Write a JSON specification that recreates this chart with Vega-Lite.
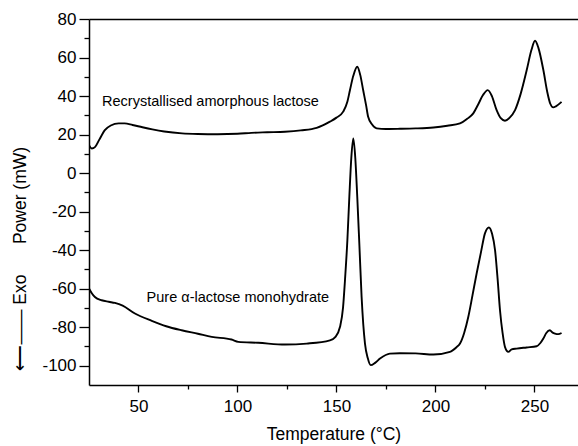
{
  "$schema": "https://vega.github.io/schema/vega-lite/v6.json",
  "autosize": "none",
  "width": 489,
  "height": 366,
  "padding": {"left": 89, "top": 19, "right": 0, "bottom": 61},
  "background": "white",
  "config": {
    "view": {"stroke": null},
    "axis": {
      "grid": false,
      "domainColor": "black",
      "domainWidth": 1.5,
      "tickColor": "black",
      "tickWidth": 1.3,
      "labelColor": "black",
      "labelFont": "Liberation Sans",
      "labelFontSize": 17,
      "titleColor": "black",
      "titleFont": "Liberation Sans",
      "titleFontSize": 17.5,
      "titleFontWeight": "normal"
    }
  },
  "datasets": {
    "curves": [
      {"series": "Recrystallised", "t": 25, "p": 14.5},
      {"series": "Recrystallised", "t": 26.4, "p": 12.8},
      {"series": "Recrystallised", "t": 28, "p": 13.5},
      {"series": "Recrystallised", "t": 30, "p": 17},
      {"series": "Recrystallised", "t": 33, "p": 22.3},
      {"series": "Recrystallised", "t": 36, "p": 24.7},
      {"series": "Recrystallised", "t": 40, "p": 25.8},
      {"series": "Recrystallised", "t": 43, "p": 25.8},
      {"series": "Recrystallised", "t": 47, "p": 25},
      {"series": "Recrystallised", "t": 52, "p": 23.8},
      {"series": "Recrystallised", "t": 57, "p": 22.7},
      {"series": "Recrystallised", "t": 63, "p": 21.6},
      {"series": "Recrystallised", "t": 72, "p": 20.6},
      {"series": "Recrystallised", "t": 80, "p": 20.3},
      {"series": "Recrystallised", "t": 90, "p": 20.2},
      {"series": "Recrystallised", "t": 100, "p": 20.4},
      {"series": "Recrystallised", "t": 107, "p": 20.9},
      {"series": "Recrystallised", "t": 115, "p": 21.2},
      {"series": "Recrystallised", "t": 124, "p": 21.5},
      {"series": "Recrystallised", "t": 132, "p": 22.2},
      {"series": "Recrystallised", "t": 140, "p": 23.5},
      {"series": "Recrystallised", "t": 146.7, "p": 26.7},
      {"series": "Recrystallised", "t": 150, "p": 28.8},
      {"series": "Recrystallised", "t": 153.4, "p": 31.9},
      {"series": "Recrystallised", "t": 155.5, "p": 37},
      {"series": "Recrystallised", "t": 156.8, "p": 43},
      {"series": "Recrystallised", "t": 158.5, "p": 50.5},
      {"series": "Recrystallised", "t": 160.5, "p": 55.2},
      {"series": "Recrystallised", "t": 162, "p": 51},
      {"series": "Recrystallised", "t": 163.5, "p": 43},
      {"series": "Recrystallised", "t": 165, "p": 35},
      {"series": "Recrystallised", "t": 166, "p": 29.2},
      {"series": "Recrystallised", "t": 168, "p": 25.2},
      {"series": "Recrystallised", "t": 170.3, "p": 23.2},
      {"series": "Recrystallised", "t": 175, "p": 22.9},
      {"series": "Recrystallised", "t": 182, "p": 23},
      {"series": "Recrystallised", "t": 190, "p": 23.2},
      {"series": "Recrystallised", "t": 199, "p": 23.7},
      {"series": "Recrystallised", "t": 206, "p": 24.6},
      {"series": "Recrystallised", "t": 212.4, "p": 25.8},
      {"series": "Recrystallised", "t": 216, "p": 28.2},
      {"series": "Recrystallised", "t": 219.1, "p": 31},
      {"series": "Recrystallised", "t": 221.5, "p": 35.5},
      {"series": "Recrystallised", "t": 224, "p": 40.5},
      {"series": "Recrystallised", "t": 226.4, "p": 43.1},
      {"series": "Recrystallised", "t": 228.5, "p": 40},
      {"series": "Recrystallised", "t": 230.9, "p": 32.7},
      {"series": "Recrystallised", "t": 233, "p": 28.5},
      {"series": "Recrystallised", "t": 235.1, "p": 27.2},
      {"series": "Recrystallised", "t": 237.5, "p": 28.8},
      {"series": "Recrystallised", "t": 240.2, "p": 32.7},
      {"series": "Recrystallised", "t": 243, "p": 41},
      {"series": "Recrystallised", "t": 246.1, "p": 53.5},
      {"series": "Recrystallised", "t": 248.5, "p": 64},
      {"series": "Recrystallised", "t": 250.3, "p": 68.7},
      {"series": "Recrystallised", "t": 252, "p": 65},
      {"series": "Recrystallised", "t": 254.5, "p": 53.5},
      {"series": "Recrystallised", "t": 256.5, "p": 42},
      {"series": "Recrystallised", "t": 258, "p": 36},
      {"series": "Recrystallised", "t": 259.5, "p": 34.1},
      {"series": "Recrystallised", "t": 261, "p": 34.8},
      {"series": "Recrystallised", "t": 263.7, "p": 37},
      {"series": "Pure", "t": 25, "p": -59.9},
      {"series": "Pure", "t": 26.5, "p": -62.5},
      {"series": "Pure", "t": 28, "p": -64.3},
      {"series": "Pure", "t": 31.4, "p": -66},
      {"series": "Pure", "t": 35, "p": -66.8},
      {"series": "Pure", "t": 38.1, "p": -67.4},
      {"series": "Pure", "t": 42, "p": -68.8},
      {"series": "Pure", "t": 48.2, "p": -72.9},
      {"series": "Pure", "t": 56.7, "p": -76.7},
      {"series": "Pure", "t": 64, "p": -79.5},
      {"series": "Pure", "t": 71.8, "p": -81.6},
      {"series": "Pure", "t": 80, "p": -83.4},
      {"series": "Pure", "t": 87, "p": -85},
      {"series": "Pure", "t": 97, "p": -86.4},
      {"series": "Pure", "t": 100.4, "p": -87.6},
      {"series": "Pure", "t": 110.5, "p": -88.1},
      {"series": "Pure", "t": 124, "p": -89},
      {"series": "Pure", "t": 135, "p": -88.5},
      {"series": "Pure", "t": 146.7, "p": -86.8},
      {"series": "Pure", "t": 149.5, "p": -85},
      {"series": "Pure", "t": 151.8, "p": -79.8},
      {"series": "Pure", "t": 153.3, "p": -70},
      {"series": "Pure", "t": 154.3, "p": -55.6},
      {"series": "Pure", "t": 155.5, "p": -35},
      {"series": "Pure", "t": 156.5, "p": -12.3},
      {"series": "Pure", "t": 157.5, "p": 8},
      {"series": "Pure", "t": 158.5, "p": 18},
      {"series": "Pure", "t": 159.5, "p": 8},
      {"series": "Pure", "t": 160.5, "p": -12.3},
      {"series": "Pure", "t": 161.6, "p": -38},
      {"series": "Pure", "t": 162.7, "p": -64.3},
      {"series": "Pure", "t": 164.4, "p": -88.5},
      {"series": "Pure", "t": 165.8, "p": -96},
      {"series": "Pure", "t": 167.3, "p": -99.7},
      {"series": "Pure", "t": 169.5, "p": -98.5},
      {"series": "Pure", "t": 172, "p": -96.3},
      {"series": "Pure", "t": 177, "p": -93.7},
      {"series": "Pure", "t": 182, "p": -93.5},
      {"series": "Pure", "t": 190, "p": -93.6},
      {"series": "Pure", "t": 199, "p": -94.2},
      {"series": "Pure", "t": 207.3, "p": -92.8},
      {"series": "Pure", "t": 210.5, "p": -90.5},
      {"series": "Pure", "t": 212.4, "p": -88.5},
      {"series": "Pure", "t": 214.5, "p": -83},
      {"series": "Pure", "t": 216.6, "p": -74.6},
      {"series": "Pure", "t": 218.7, "p": -63.5},
      {"series": "Pure", "t": 220.8, "p": -52.1},
      {"series": "Pure", "t": 223, "p": -41},
      {"series": "Pure", "t": 225, "p": -31.3},
      {"series": "Pure", "t": 227, "p": -28.2},
      {"series": "Pure", "t": 228.6, "p": -31.5},
      {"series": "Pure", "t": 230.1, "p": -40},
      {"series": "Pure", "t": 231.4, "p": -55},
      {"series": "Pure", "t": 232.6, "p": -71.2},
      {"series": "Pure", "t": 233.9, "p": -83},
      {"series": "Pure", "t": 235.1, "p": -90.2},
      {"series": "Pure", "t": 236.8, "p": -92.8},
      {"series": "Pure", "t": 238.5, "p": -91.5},
      {"series": "Pure", "t": 241, "p": -91.1},
      {"series": "Pure", "t": 246, "p": -90.5},
      {"series": "Pure", "t": 251.1, "p": -89.9},
      {"series": "Pure", "t": 253, "p": -88.2},
      {"series": "Pure", "t": 254.5, "p": -85.9},
      {"series": "Pure", "t": 256, "p": -83},
      {"series": "Pure", "t": 257.8, "p": -81.6},
      {"series": "Pure", "t": 259.2, "p": -82.8},
      {"series": "Pure", "t": 260.4, "p": -83.3},
      {"series": "Pure", "t": 262, "p": -83.6},
      {"series": "Pure", "t": 263.7, "p": -83}
    ],
    "labels": [
      {"text": "Recrystallised amorphous lactose", "t": 31.6, "p": 36.9},
      {"text": "Pure α-lactose monohydrate", "t": 54.1, "p": -64.9}
    ]
  },
  "layer": [
    {
      "data": {"name": "curves"},
      "mark": {"type": "line", "color": "black", "strokeWidth": 1.9, "interpolate": "monotone", "clip": true},
      "encoding": {
        "x": {
          "field": "t", "type": "quantitative",
          "scale": {"domain": [25, 272], "nice": false, "zero": false},
          "axis": {
            "values": [50, 75, 100, 125, 150, 175, 200, 225, 250],
            "labelExpr": "datum.value % 50 === 0 ? datum.label : ''",
            "tickSize": {"condition": {"test": "datum.value % 50 === 0", "value": 7}, "value": 4},
            "labelPadding": 6,
            "title": "Temperature (°C)",
            "titleY": 40,
            "titleBaseline": "top"
          }
        },
        "y": {
          "field": "p", "type": "quantitative",
          "scale": {"domain": [-110, 80], "nice": false, "zero": false},
          "axis": {
            "values": [-100, -90, -80, -70, -60, -50, -40, -30, -20, -10, 0, 10, 20, 30, 40, 50, 60, 70, 80],
            "labelExpr": "datum.value % 20 === 0 ? '' + datum.value : ''",
            "tickSize": {"condition": {"test": "datum.value % 20 === 0", "value": 10}, "value": 5},
            "labelPadding": 3,
            "title": "Power (mW)",
            "titleAngle": -90,
            "titleX": -69,
            "titleY": 176,
            "titleAlign": "center",
            "titleBaseline": "middle"
          }
        },
        "detail": {"field": "series"}
      }
    },
    {
      "data": {"name": "labels"},
      "mark": {"type": "text", "align": "left", "baseline": "middle", "font": "Liberation Sans", "fontSize": 14.5, "color": "black"},
      "encoding": {
        "x": {
          "field": "t", "type": "quantitative",
          "axis": {"orient": "top", "labels": false, "ticks": false, "title": null, "domain": true}
        },
        "y": {
          "field": "p", "type": "quantitative",
          "axis": {
            "orient": "left", "labels": false, "ticks": false, "domain": false,
            "title": "⟵――  Exo",
            "titleAngle": -90,
            "titleX": -69,
            "titleY": 303,
            "titleAlign": "center",
            "titleBaseline": "middle"
          }
        },
        "text": {"field": "text"}
      }
    }
  ],
  "resolve": {"axis": {"x": "independent", "y": "independent"}}
}
